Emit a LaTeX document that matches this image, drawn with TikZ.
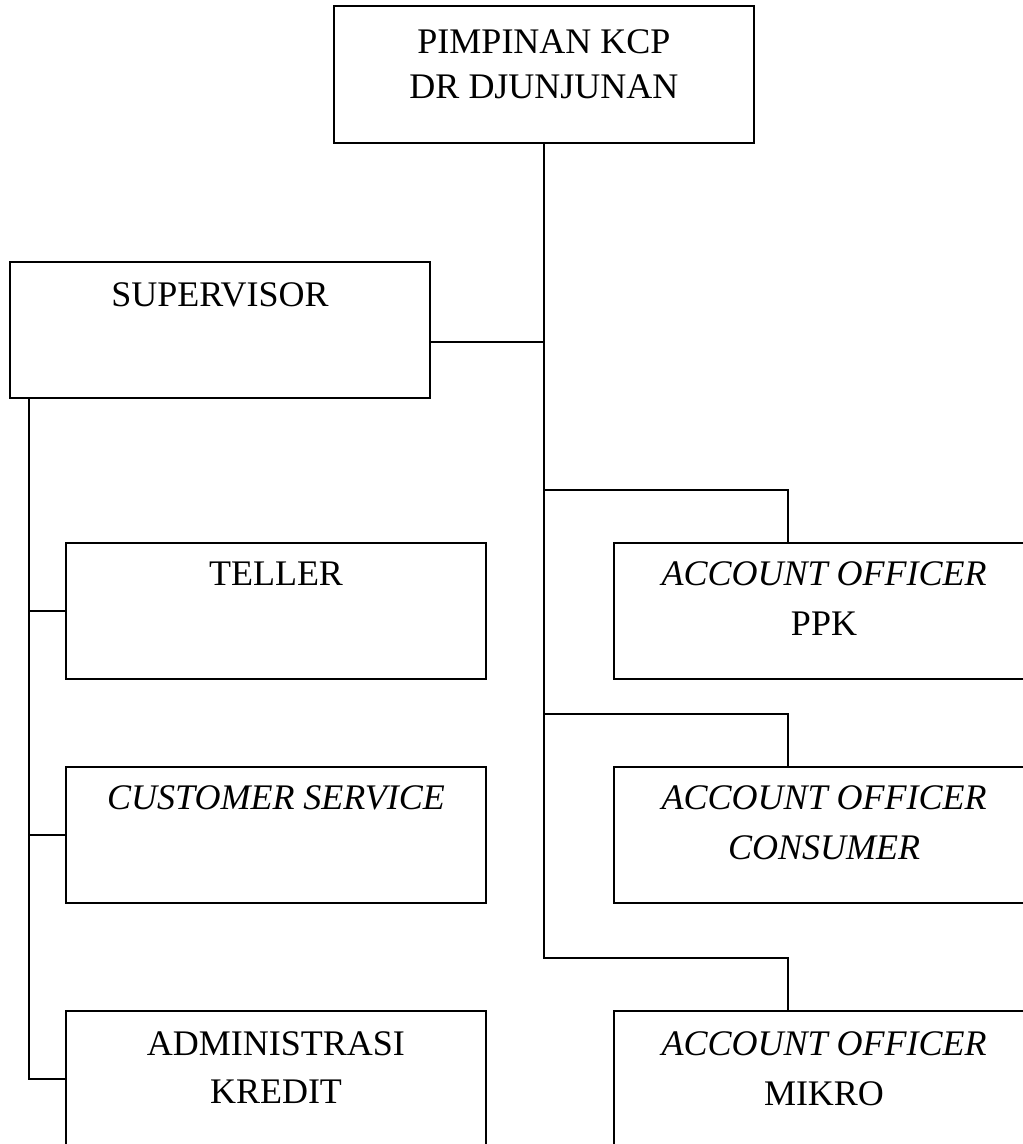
\documentclass[tikz,border=0pt]{standalone}
\usepackage{fontspec}
\setmainfont{Liberation Serif}
\usetikzlibrary{positioning}

\begin{document}
\begin{tikzpicture}[
  x=1pt, y=-1pt,
  box/.style={draw, line width=2pt, minimum width=420pt, minimum height=136pt, inner sep=0pt},
  txt/.style={anchor=north, inner sep=0pt, align=center, font=\fontsize{36}{48}\selectfont},
  link/.style={line width=2pt}
]
\useasboundingbox (0,0) rectangle (1023,1144);

% --- Pimpinan ---
\node[box, minimum height=137pt] (pim) at (544,74.5) {};
\node[txt, below=24pt of pim.north] (pim_t) {PIMPINAN KCP\\[-3pt]DR DJUNJUNAN};

% --- Supervisor and staff ---
\node[box] (sup) at (220,330) {};
\node[txt, below=21pt of sup.north] (sup_t) {SUPERVISOR};

\node[box] (tel) at (276,610.5) {};
\node[txt, below=20pt of tel.north] (tel_t) {TELLER};

\node[box] (cs) at (276,834.5) {};
\node[txt, below=20pt of cs.north] (cs_t) {\textit{CUSTOMER SERVICE}};

\node[box] (adm) at (276,1079) {};
\node[txt, below=21pt of adm.north] (adm_t) {ADMINISTRASI\\KREDIT};

% --- Account officers ---
\node[box] (ppk) at (824,610.5) {};
\node[txt, below=20pt of ppk.north] (ppk_t) {\textit{ACCOUNT OFFICER}\\[2pt]PPK};

\node[box] (aoc) at (824,834.5) {};
\node[txt, below=20pt of aoc.north] (aoc_t) {\textit{ACCOUNT OFFICER}\\[2pt]\textit{CONSUMER}};

\node[box] (aom) at (824,1079) {};
\node[txt, below=21pt of aom.north] (aom_t) {\textit{ACCOUNT OFFICER}\\[2pt]MIKRO};

% Connectors
\draw[link] ([yshift=-12pt]sup.east) -- ([yshift=-12pt]sup.east -| pim.south);
\foreach \n in {ppk,aoc,aom}
  \draw[link] ([xshift=-36pt]\n.north) -- ++(0,-52) -| (pim.south);

\coordinate (spine) at ([xshift=20pt]sup.south west);
\draw[link] (spine) |- (adm.west);
\foreach \n in {tel,cs}
  \draw[link] (\n.west) -- (\n.west -| spine);
\end{tikzpicture}
\end{document}
